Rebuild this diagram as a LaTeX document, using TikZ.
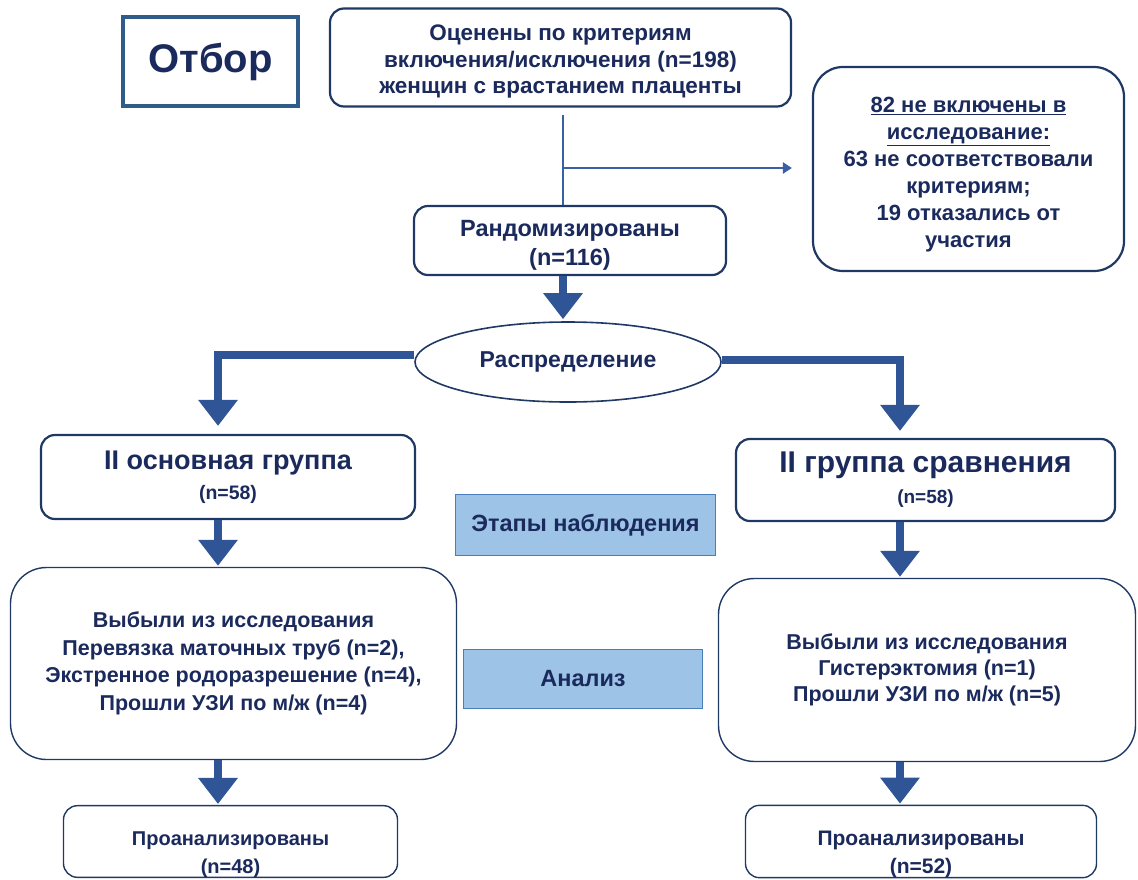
\documentclass[tikz,border=0pt]{standalone}
\usepackage{fontspec}
\setmainfont{Liberation Sans}
\usetikzlibrary{shapes.geometric,arrows.meta}
\newcommand\toppad[1]{\mbox{}\\[#1]}
\definecolor{navy}{HTML}{1B2A5C}
\definecolor{boxline}{HTML}{203864}
\definecolor{steel}{HTML}{2F5C8A}
\definecolor{thin}{HTML}{3A5FA5}
\definecolor{arr}{HTML}{2F5597}
\definecolor{lightfill}{HTML}{9DC3E6}
\definecolor{lightline}{HTML}{4A7EBB}
\tikzset{
  box/.style={draw=boxline, line width=2.2pt, rounded corners=14pt, fill=white,
     text=navy, align=center, inner sep=0pt, font=\bfseries},
  bigbox/.style={box, line width=1.4pt, rounded corners=36pt},
  stage/.style={draw=lightline, line width=1.4pt, fill=lightfill, text=navy,
     align=center, inner sep=0pt, font=\bfseries\fontsize{23.5}{28}\selectfont},
  bigarrow/.style={draw=arr, line width=8pt,
     -{Triangle[width=38pt,length=26pt]}},
  thinarrow/.style={draw=thin, line width=2.2pt},
}
\begin{document}
\begin{tikzpicture}[x=1pt,y=-1pt]
\useasboundingbox (0,0) rectangle (1138,879);
% nodes
\node[draw=steel, line width=4pt, minimum width=175pt, minimum height=89pt,
      text=navy, font=\bfseries\fontsize{40}{44}\selectfont] (otbor) at (210.5,61.5) {Отбор};
\node[box, minimum width=461pt, minimum height=98pt,
      font=\bfseries\fontsize{22.5}{26.5}\selectfont] (top) at (560.5,57.5)
  {\toppad{-2pt}Оценены по критериям\\включения/исключения (n=198)\\женщин с врастанием плаценты};
\node[box, rounded corners=30pt, minimum width=311pt, minimum height=204pt,
      font=\bfseries\fontsize{22}{27}\selectfont] (excl) at (968.5,169)
  {\toppad{-1pt}\underline{82 не включены в}\\\underline{исследование:}\\63 не соответствовали\\критериям;\\19 отказались от\\участия};
\node[box, minimum width=312pt, minimum height=69pt,
      font=\bfseries\fontsize{23.5}{29}\selectfont] (rand) at (570,240.5)
  {\toppad{-4pt}Рандомизированы\\(n=116)};
\node[ellipse, draw=boxline, line width=1.6pt, minimum width=306pt, minimum height=80pt,
      inner sep=0pt, text=navy, font=\bfseries\fontsize{23}{27}\selectfont] (distr) at (568,362)
  {Распределение};
\node[box, minimum width=374pt, minimum height=84pt,
      font=\bfseries\fontsize{19.5}{30}\selectfont] (g1) at (228,477)
  {{\fontsize{27}{30}\selectfont II основная группа}\\(n=58)};
\node[box, minimum width=379pt, minimum height=82pt,
      font=\bfseries\fontsize{19}{31}\selectfont] (g2) at (925.5,480)
  {{\fontsize{30}{31}\selectfont II группа сравнения}\\(n=58)};
\node[stage, minimum width=260pt, minimum height=61pt] (etap) at (585.5,525) {Этапы наблюдения};
\node[stage, minimum width=239pt, minimum height=59pt] (anal) at (583,679) {Анализ};
\node[bigbox, minimum width=446pt, minimum height=192pt,
      font=\bfseries\fontsize{21.5}{27.5}\selectfont] (d1) at (233.5,663.5)
  {Выбыли из исследования\\Перевязка маточных труб (n=2),\\Экстренное родоразрешение (n=4),\\Прошли УЗИ по м/ж (n=4)};
\node[bigbox, minimum width=417pt, minimum height=183pt,
      font=\bfseries\fontsize{21.5}{26}\selectfont] (d2) at (927,670)
  {Выбыли из исследования\\Гистерэктомия (n=1)\\Прошли УЗИ по м/ж (n=5)};
\node[box, line width=1.4pt, minimum width=334pt, minimum height=70pt,
      font=\bfseries\fontsize{20}{28}\selectfont] (p1) at (230.5,841.5)
  {\toppad{11.5pt}Проанализированы\\(n=48)};
\node[box, line width=1.4pt, minimum width=351pt, minimum height=70pt,
      font=\bfseries\fontsize{21}{28}\selectfont] (p2) at (921,841.5)
  {\toppad{12pt}Проанализированы\\(n=52)};
% thin connectors
\coordinate (vtop) at (563,115);
\coordinate (br) at (563,168);
\draw[thinarrow] (vtop) -- (rand.north -| vtop);
\draw[thinarrow, -{Triangle[width=11pt,length=9pt]}, shorten >=20pt] (br) -- (excl.west |- br);
% thick arrows
\draw[bigarrow, shorten >=2pt] (rand.south -| vtop) -- (distr.north -| vtop);
\draw[bigarrow, shorten >=8pt] ([yshift=7pt]distr.west) -| (g1.north -| 218,0);
\draw[bigarrow, shorten >=7pt] ([yshift=2pt]distr.east) -| (g2.north -| 900,0);
\draw[bigarrow, shorten >=1pt] (g1.south -| 218,0) -- (d1.north -| 218,0);
\draw[bigarrow, shorten >=1pt] (g2.south -| 900,0) -- (d2.north -| 900,0);
\draw[bigarrow, shorten >=1pt] (d1.south -| 218,0) -- (p1.north -| 218,0);
\draw[bigarrow, shorten >=1pt] (d2.south -| 900,0) -- (p2.north -| 900,0);
\end{tikzpicture}
\end{document}
